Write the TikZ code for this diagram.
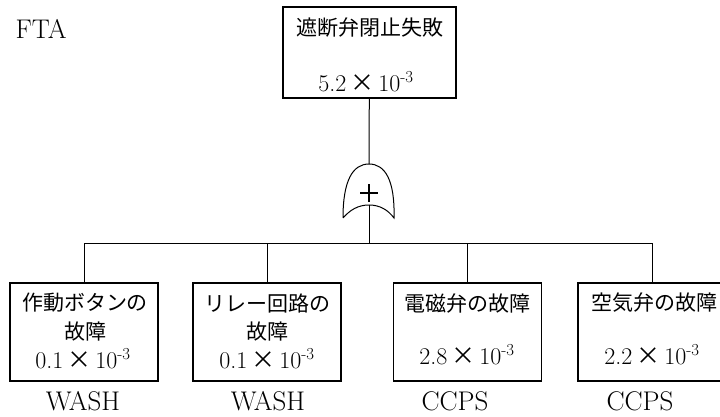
\documentclass[tikz,border=0pt]{standalone}
\usepackage{fontspec}
\usepackage{tikz}
\newfontfamily\cjk{Noto Sans CJK JP}

% value with a power of ten
\newcommand{\tenpow}[1]{#1\,{\cjk ×}\,10\textsuperscript{-3}}

\begin{document}
\begin{tikzpicture}[x=1pt,y=-1pt,
  box/.style={draw, line width=1.2pt, minimum width=148pt, minimum height=98pt, inner sep=0pt},
  jp/.style={font=\fontsize{21}{25}\cjk, inner sep=0pt},
  num/.style={font=\fontsize{24}{28}\selectfont, inner sep=0pt},
  src/.style={font=\fontsize{27}{32}\selectfont, inner sep=0pt}]
\useasboundingbox (0,0) rectangle (720,417);
\clip (0,0) rectangle (720,417);

\node[src] (fta) at (41,29) {FTA};

% top event
\node[box, minimum width=173pt, minimum height=91pt] (top) at (369.5,52.5) {};
\node[jp] (top-name) at (370,28) {遮断弁閉止失敗};
\node[num] (top-val) at (366,82) {\tenpow{5.2}};

% OR gate
\coordinate (gtop) at (369,164);
\coordinate (gbot) at (369,205);
\draw[line width=1pt] (343,218) .. controls (343,180) and (353,164) .. (gtop)
  .. controls (385,164) and (395,180) .. (394,218)
  .. controls (388,210) and (380,205) .. (gbot)
  .. controls (358,205) and (350,210) .. (343,218);
\draw[line width=1.2pt] (360,193) -- (378,193);
\draw[line width=1.2pt] (369,184) -- (369,202);
\draw[line width=1pt] (top) -- (gtop);
\coordinate (bus) at (369,243);
\draw[line width=1pt] (gbot) -- (bus);

% basic events
\node[box] (b1) at (84,332) {};
\node[box] (b2) at (267,332) {};
\node[box] (b3) at (467.5,332) {};
\node[box] (b4) at (652,332) {};
\draw[line width=1pt] (b1.north) |- (bus);
\draw[line width=1pt] (b4.north) |- (bus);
\draw[line width=1pt] (b2.north) -- (b2.north |- bus);
\draw[line width=1pt] (b3.north) -- (b3.north |- bus);

\node[jp] (b1-a) at (85,303) {作動ボタンの};
\node[jp] (b1-b) at (85,332) {故障};
\node[num] (b1-val) at (83,359) {\tenpow{0.1}};

\node[jp] (b2-a) at (267,303) {リレー回路の};
\node[jp] (b2-b) at (267,332) {故障};
\node[num] (b2-val) at (267,359) {\tenpow{0.1}};

\node[jp] (b3-a) at (467,303) {電磁弁の故障};
\node[num] (b3-val) at (467,355) {\tenpow{2.8}};

\node[jp] (b4-a) at (654,303) {空気弁の故障};
\node[num] (b4-val) at (652,355) {\tenpow{2.2}};

\node[src] (b1-src) at (83,401) {WASH};
\node[src] (b2-src) at (268,401) {WASH};
\node[src] (b3-src) at (455,401) {CCPS};
\node[src] (b4-src) at (640,401) {CCPS};
\end{tikzpicture}
\end{document}
